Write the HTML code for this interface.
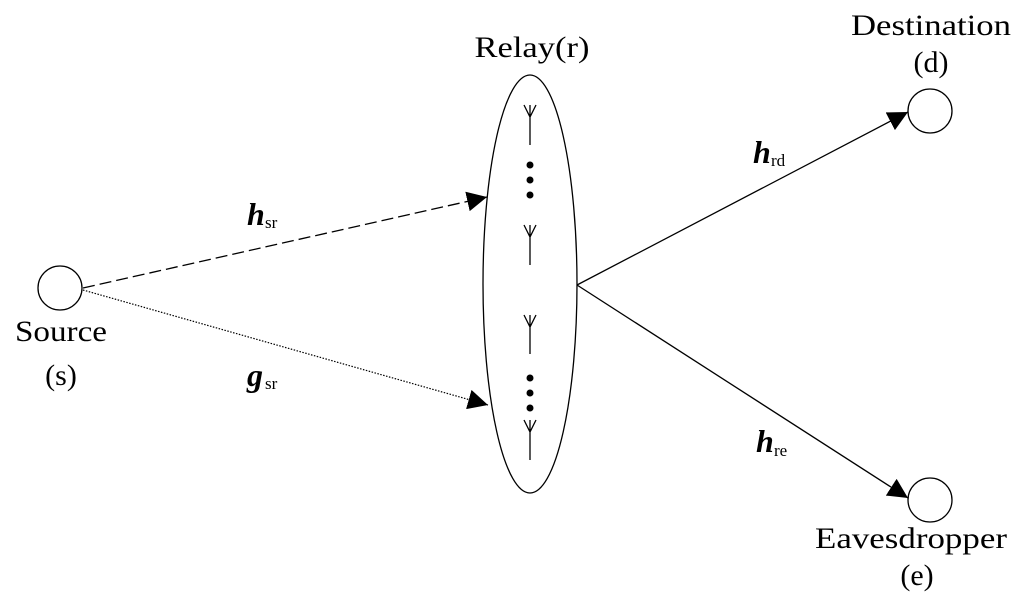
<!DOCTYPE html>
<html><head><meta charset="utf-8"><style>html,body{margin:0;padding:0;background:#fff}svg{display:block}text{font-family:"Liberation Serif",serif}</style></head>
<body>
<svg width="1024" height="600" viewBox="0 0 1024 600" xmlns="http://www.w3.org/2000/svg">
<defs>
<marker id="a" viewBox="0 0 10 10" refX="10" refY="5" markerWidth="20" markerHeight="20" markerUnits="userSpaceOnUse" orient="auto"><path d="M0,0 L10,5 L0,10 z" fill="#000"/></marker>
</defs>
<g fill="none" stroke="#000" stroke-width="1.3">
<circle cx="60" cy="288" r="22"/>
<circle cx="930" cy="111" r="22"/>
<circle cx="930" cy="500" r="22"/>
<ellipse cx="530" cy="284" rx="47" ry="209"/>
<line x1="83" y1="288" x2="487" y2="197" stroke-dasharray="12,5" marker-end="url(#a)"/>
<line x1="83" y1="290" x2="488" y2="405" stroke-dasharray="1.5,1.5" stroke-width="1.2" marker-end="url(#a)"/>
<line x1="577" y1="285" x2="908" y2="112" marker-end="url(#a)"/>
<line x1="577" y1="285" x2="908" y2="498" marker-end="url(#a)"/>
<path d="M530,115 V145 M524,105 L530,117 L536,105 M530,105 V117"/>
<path d="M530,235 V265 M524,225 L530,237 L536,225 M530,225 V237"/>
<path d="M530,325 V354 M524,315 L530,327 L536,315 M530,315 V327"/>
<path d="M530,430 V460 M524,420 L530,432 L536,420 M530,420 V432"/>
</g>
<g fill="#000">
<circle cx="530" cy="165" r="3.5"/><circle cx="530" cy="180" r="3.5"/><circle cx="530" cy="195" r="3.5"/>
<circle cx="530" cy="378" r="3.5"/><circle cx="530" cy="393" r="3.5"/><circle cx="530" cy="408" r="3.5"/>
</g>
<g font-size="30" text-anchor="middle" fill="#000">
<text x="532" y="57" textLength="115" lengthAdjust="spacingAndGlyphs">Relay(r)</text>
<text x="931" y="35" textLength="160" lengthAdjust="spacingAndGlyphs">Destination</text>
<text x="931" y="72">(d)</text>
<text x="911" y="548" textLength="192" lengthAdjust="spacingAndGlyphs">Eavesdropper</text>
<text x="917" y="585">(e)</text>
<text x="61" y="341" textLength="92" lengthAdjust="spacingAndGlyphs">Source</text>
<text x="61" y="385">(s)</text>
</g>
<g fill="#000">
<text x="247" y="225" font-size="32" font-style="italic" font-weight="bold">h</text><text x="265" y="228" font-size="17">sr</text>
<text x="247" y="386" font-size="32" font-style="italic" font-weight="bold">g</text><text x="265" y="389" font-size="17">sr</text>
<text x="753" y="163" font-size="32" font-style="italic" font-weight="bold">h</text><text x="771" y="166" font-size="17">rd</text>
<text x="756" y="452" font-size="32" font-style="italic" font-weight="bold">h</text><text x="774" y="456" font-size="17">re</text>
</g>
</svg>
</body></html>
